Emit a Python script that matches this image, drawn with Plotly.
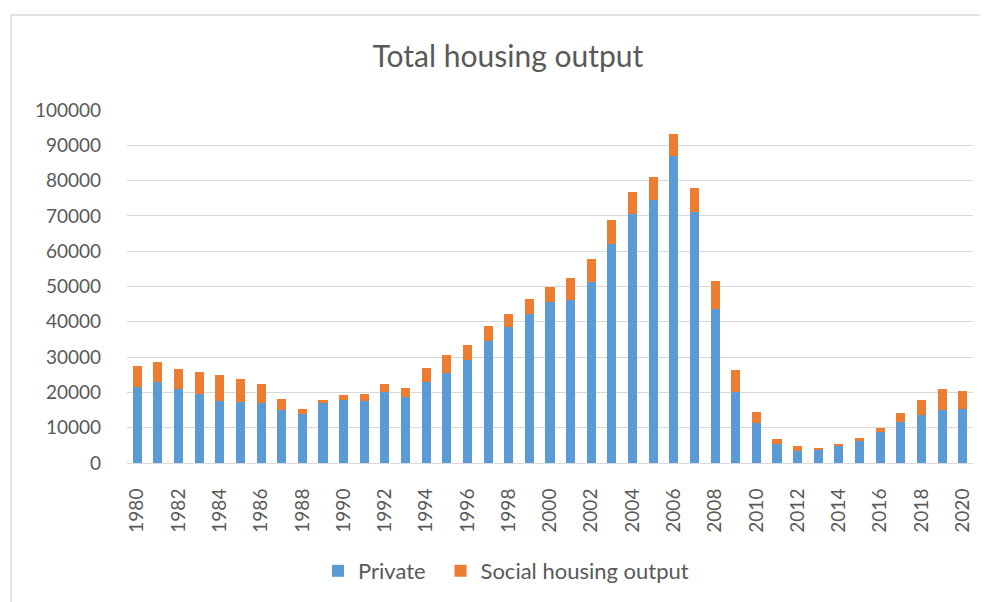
import plotly.graph_objects as go

years = list(range(1980, 2021))
private = [21500, 23000, 20900, 19600, 17700, 17300, 16900, 15100, 13900, 17000,
           17800, 17600, 20200, 18700, 23000, 25500, 29100, 34700, 38500, 42200,
           45600, 46300, 51200, 62100, 70600, 74400, 87100, 71000, 43700, 20100,
           11400, 5300, 3300, 3700, 4900, 6300, 8900, 11700, 13500, 15100, 15300]
social = [6100, 5700, 5700, 6300, 7200, 6400, 5600, 3100, 1500, 900,
          1600, 1900, 2200, 2500, 3800, 5000, 4400, 4100, 3700, 4300,
          4200, 6200, 6500, 6600, 6300, 6500, 6200, 7000, 7900, 6200,
          3100, 1600, 1400, 600, 500, 700, 900, 2600, 4300, 5900, 5200]
y_ticks = [0, 10000, 20000, 30000, 40000, 50000, 60000, 70000, 80000, 90000, 100000]

FONT = "Lato"
TXT = "#595959"

fig = go.Figure()
fig.add_trace(go.Bar(x=years, y=private, name="Private", marker_color="#5B9BD5",
                     marker_line_width=0, legend="legend"))
fig.add_trace(go.Bar(x=years, y=social, name="Social housing output", marker_color="#ED7D31",
                     marker_line_width=0, legend="legend2"))

leg_common = dict(orientation="h", xanchor="left", y=-0.306, yanchor="middle",
                  font=dict(family=FONT, size=22, color=TXT), bgcolor="rgba(0,0,0,0)")

fig.update_layout(
    width=988, height=602,
    barmode="stack", bargap=0.56,
    paper_bgcolor="white", plot_bgcolor="white",
    margin=dict(l=119, r=23, t=102, b=147, autoexpand=False),
    font=dict(family=FONT, color=TXT),
    title=dict(text="Total housing output", x=0.506, xanchor="center",
               y=0.919, yanchor="middle", font=dict(family=FONT, size=30, color=TXT)),
    showlegend=True,
    legend=dict(x=0.2258, **leg_common),
    legend2=dict(x=0.3706, **leg_common),
    xaxis=dict(range=[1979.5, 2020.5], tick0=1980, dtick=2, tickangle=-90,
               showgrid=False, showline=True, linecolor="#d9d9d9", linewidth=1,
               ticks="", tickfont=dict(family=FONT, size=19, color=TXT),
               ticklabelstandoff=17),
    yaxis=dict(range=[0, 100000], tickvals=y_ticks, tickformat="d",
               showgrid=True, gridcolor="#d9d9d9", gridwidth=1.3,
               zeroline=False, showline=False, ticks="",
               tickfont=dict(family=FONT, size=19, color=TXT), ticklabelstandoff=25),
    shapes=[dict(type="rect", xref="paper", yref="paper",
                 x0=-0.137, x1=1.05, y0=-0.45, y1=1.269,
                 line=dict(color="#e3e3e3", width=2), fillcolor="rgba(0,0,0,0)",
                 layer="below")],
)

fig.write_html("out.html")
